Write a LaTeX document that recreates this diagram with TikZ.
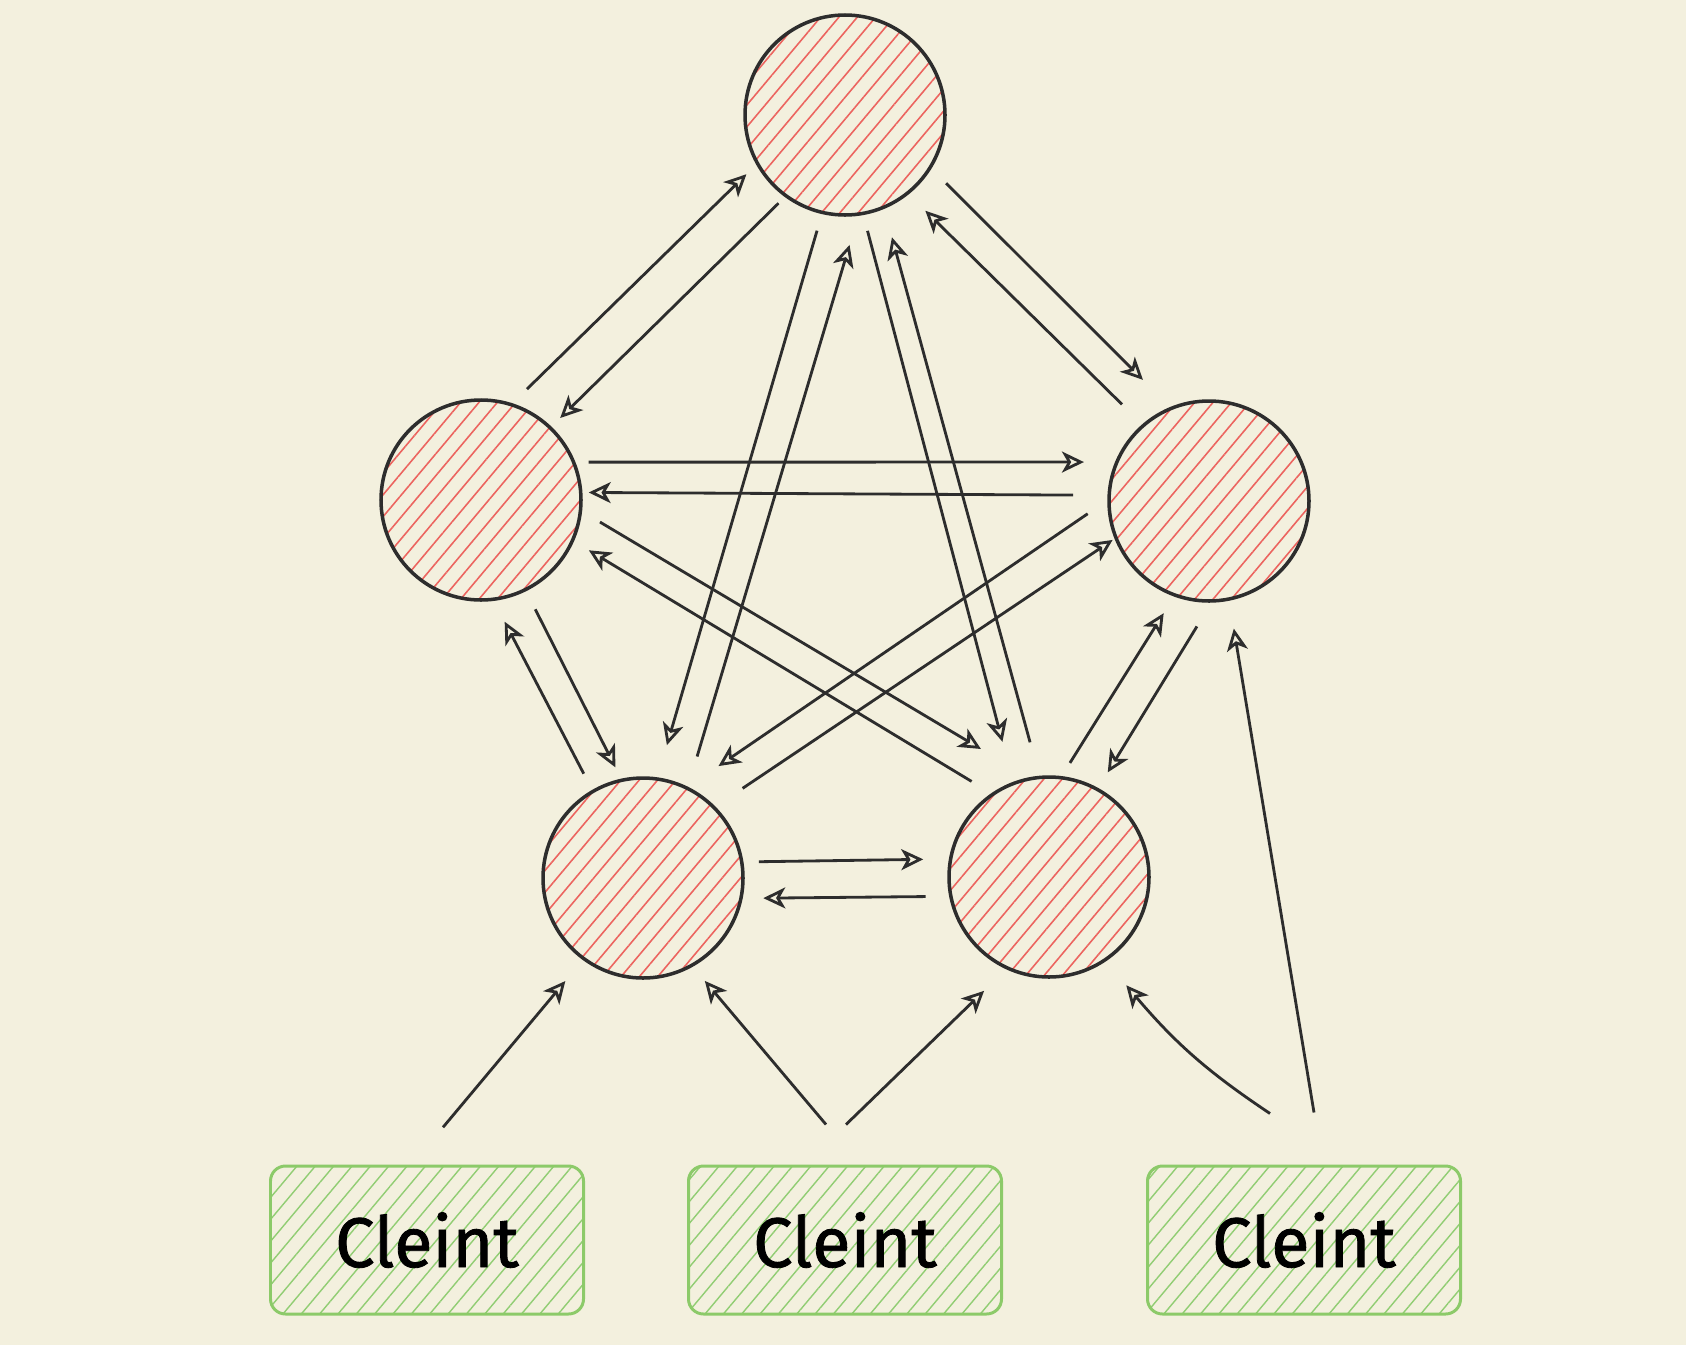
\documentclass[tikz,border=0pt]{standalone}
\usepackage{fontspec}
\setmainfont{Fira Sans}
\newfontfamily\clifont[FakeBold=1.2]{Fira Sans}
\usepackage{tikz}
\usetikzlibrary{arrows.meta,patterns.meta}
\definecolor{paper}{RGB}{243,240,222}
\definecolor{ink}{RGB}{45,45,45}
\definecolor{hatchred}{RGB}{236,100,95}
\definecolor{leafgreen}{RGB}{140,202,105}
\definecolor{hatchgreen}{RGB}{145,205,115}

\begin{document}
\begin{tikzpicture}[
  srv/.style={circle,draw=ink,line width=2pt,minimum size=4cm,inner sep=0pt,
              pattern={Lines[angle=50,distance=8pt,line width=0.9pt]},pattern color=hatchred},
  cli/.style={rectangle,rounded corners=0.3cm,draw=leafgreen,line width=1.7pt,
              minimum width=6.26cm,minimum height=2.96cm,
              pattern={Lines[angle=50,distance=8pt,line width=0.8pt]},pattern color=hatchgreen,
              font=\fontsize{40}{48}\clifont},
  arr/.style={-{Stealth[open,length=0.44cm,width=0.42cm,inset=0.12cm]},ink,line width=1.6pt,line join=round}
]
\fill[paper] (0,0) rectangle (33.72,-26.9);

% servers
\node[srv] (ntop) at (16.9,-2.3) {};
\node[srv] (nleft) at (9.62,-10.0) {};
\node[srv] (nright) at (24.18,-10.02) {};
\node[srv] (nbotl) at (12.86,-17.56) {};
\node[srv] (nbotr) at (20.98,-17.54) {};

% clients
\node[cli] (cl1) at (8.54,-24.8) {Cleint};
\node[cli] (cl2) at (16.9,-24.8) {Cleint};
\node[cli] (cl3) at (26.08,-24.8) {Cleint};

% top
\draw[arr] ([shift={(67.5:2.4)}]nleft.center) -- ([shift={(-149:2.3)}]ntop.center);
\draw[arr] ([shift={(-127:2.21)}]ntop.center) -- ([shift={(46:2.28)}]nleft.center);
\draw[arr] ([shift={(-103.6:2.38)}]ntop.center) -- ([shift={(79.8:2.7)}]nbotl.center);
\draw[arr] ([shift={(66:2.66)}]nbotl.center) -- ([shift={(-88:2.6)}]ntop.center);
\draw[arr] ([shift={(-79:2.36)}]ntop.center) -- ([shift={(109:2.86)}]nbotr.center);
\draw[arr] ([shift={(98:2.72)}]nbotr.center) -- ([shift={(-69:2.62)}]ntop.center);
\draw[arr] ([shift={(-34:2.44)}]ntop.center) -- ([shift={(118.6:2.76)}]nright.center);
\draw[arr] ([shift={(132:2.6)}]nright.center) -- ([shift={(-50:2.5)}]ntop.center);

% left
\draw[arr] ([shift={(19.4:2.28)}]nleft.center) -- ([shift={(162.7:2.62)}]nright.center);
\draw[arr] ([shift={(177.5:2.72)}]nright.center) -- ([shift={(4:2.16)}]nleft.center);
\draw[arr] ([shift={(-10.5:2.42)}]nleft.center) -- ([shift={(118:2.9)}]nbotr.center);
\draw[arr] ([shift={(129:2.46)}]nbotr.center) -- ([shift={(-25:2.38)}]nleft.center);
\draw[arr] ([shift={(119.6:2.4)}]nbotl.center) -- ([shift={(-79:2.48)}]nleft.center);
\draw[arr] ([shift={(-63.6:2.44)}]nleft.center) -- ([shift={(104:2.28)}]nbotl.center);

% right
\draw[arr] ([shift={(186:2.44)}]nright.center) -- ([shift={(56:2.7)}]nbotl.center);
\draw[arr] ([shift={(42:2.68)}]nbotl.center) -- ([shift={(-158:2.08)}]nright.center);
\draw[arr] ([shift={(79.6:2.32)}]nbotr.center) -- ([shift={(-112:2.42)}]nright.center);
\draw[arr] ([shift={(-95.5:2.52)}]nright.center) -- ([shift={(60.7:2.4)}]nbotr.center);

% bottom
\draw[arr] ([shift={(8:2.34)}]nbotl.center) -- ([shift={(172:2.54)}]nbotr.center);
\draw[arr] ([shift={(-171:2.5)}]nbotr.center) -- ([shift={(-9.5:2.44)}]nbotl.center);

% clients
\draw[arr] ([shift={(0.32,0.76)}]cl1.north) -- ([shift={(-127:2.58)}]nbotl.center);
\draw[arr] ([shift={(-0.38,0.8)}]cl2.north) -- ([shift={(-59:2.4)}]nbotl.center);
\draw[arr] ([shift={(0.02,0.8)}]cl2.north) -- ([shift={(-119.7:2.62)}]nbotr.center);
\draw[arr] ([shift={(-0.68,1.02)}]cl3.north) to[bend left=8] ([shift={(-54.5:2.66)}]nbotr.center);
\draw[arr] ([shift={(0.2,1.04)}]cl3.north) -- ([shift={(-79:2.6)}]nright.center);
\end{tikzpicture}
\end{document}
